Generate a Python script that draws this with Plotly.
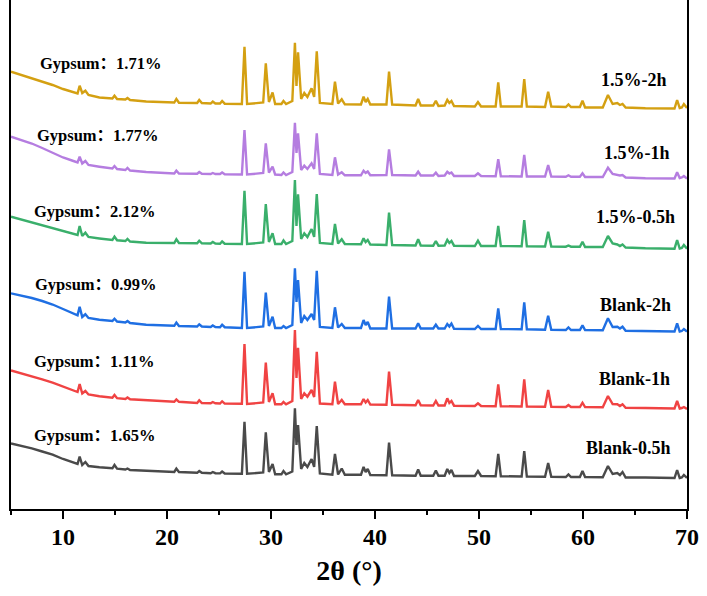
import plotly.graph_objects as go

# 2θ vertices (degrees) shared by all patterns
two_theta = [
    5.0, 6.0, 7.0, 8.0, 9.0, 10.0, 11.0, 11.4,
    11.6, 11.85, 12.15, 12.45, 13.5, 14.75, 14.95, 15.2, 16.0, 16.2, 16.45, 18.0,
    20.7, 20.9, 21.15, 22.9, 23.1, 23.35, 24.2, 24.4, 24.65, 25.1, 25.3, 25.55,
    27.2, 27.45, 27.7, 29.25, 29.5, 29.8, 30.15, 30.4, 31.0, 31.2, 31.45,
    32.05, 32.3, 32.45, 32.6, 32.9, 33.2, 33.5, 33.9, 34.15, 34.4, 34.7,
    35.9, 36.15, 36.45, 36.8, 37.1, 38.65, 38.9, 39.1, 39.3, 39.55,
    41.1, 41.35, 41.65, 43.9, 44.15, 44.4, 45.6, 45.85, 46.1, 46.7, 46.95, 47.15, 47.35, 47.6,
    49.6, 49.9, 50.2, 51.6, 51.85, 52.1, 54.1, 54.35, 54.6, 56.35, 56.65, 56.95,
    58.35, 58.6, 58.85, 59.7, 59.95, 60.2, 61.9, 62.4, 62.85, 63.3, 63.55, 63.8, 64.1,
    66.0, 68.8, 69.05, 69.3, 69.5, 69.7, 70.0,
]

# stacked intensities (a.u.)
int_15_2h = [
    437.3, 434, 430.7, 427.5, 424, 420, 416.3, 415.5,
    423.3, 416, 418.3, 414, 411.5, 410.5, 413.3, 410, 409.5, 411, 409, 407.5,
    406.5, 410, 406.3, 406, 409, 406, 405.5, 407.5, 405.5, 405.5, 408, 405.3,
    405, 462.3, 405, 406.5, 445.7, 407, 416.5, 405, 405, 408, 405,
    408, 466.3, 423, 456.7, 410, 416, 412, 420.7, 412, 457.7, 406,
    405, 427.3, 405.5, 409.7, 404.7, 404.5, 412.3, 407, 410, 404.5,
    404.5, 437.3, 404.5, 403.5, 410, 403.5, 403.5, 408.3, 403, 403.5, 409, 406, 408, 403,
    402.5, 407, 402.5, 402.5, 426.7, 402.5, 402.5, 430, 402.5, 402, 417.3, 402.5,
    402, 404.5, 402, 402, 408.3, 401.5, 401.5, 414, 405, 406, 404, 405, 401.5,
    400.7, 400.5, 409, 401, 401.5, 405, 401,
]
int_15_1h = [
    372.3, 369, 365.5, 361, 356, 351.5, 348, 346.5,
    352.3, 345.5, 348, 344, 342.3, 340.5, 343, 340, 339, 341, 338.5, 337,
    335.5, 338.3, 335.5, 335.3, 337, 335.3, 335, 336, 335, 335, 336.5, 334.8,
    334.5, 379, 334.5, 336, 365.7, 336.5, 342.3, 334.5, 334, 336.5, 334,
    337, 386.3, 356, 375.7, 339, 343.3, 340, 345.7, 340, 375.7, 335,
    334, 351.7, 334.5, 336.7, 333.7, 333.7, 338.3, 336, 337.5, 333.7,
    334, 359.7, 334, 333.5, 337.3, 333.5, 333.5, 336.3, 333, 333.5, 337.3, 335.5, 336.5, 333,
    333, 335.7, 333, 332.8, 349.7, 332.8, 332.5, 354, 332.5, 332.5, 344, 332.5,
    332.3, 333.7, 332.3, 332.3, 335.7, 332, 332, 341.3, 335, 334.5, 333.5, 334, 331.5,
    330.7, 330.5, 336.7, 331, 331.5, 333, 330.3,
]
int_15_05h = [
    292.3, 289.5, 286.7, 283.5, 280.7, 278, 275, 274,
    283, 273, 276.3, 272, 270.5, 269, 272.3, 268.7, 268, 270, 267.5, 266.3,
    266, 269.7, 266, 265.7, 268.3, 265.7, 265.5, 267, 265.5, 265.3, 267.5, 265.3,
    265, 318.3, 265, 266.5, 305, 267, 275.7, 265, 265, 268.5, 265,
    268, 329, 283, 314.7, 270, 275.7, 272, 280, 272, 315, 266,
    265, 285, 265.5, 269.7, 265, 264.7, 270.7, 267, 269, 264.5,
    264, 296.3, 264, 263.5, 269.7, 263.5, 263.3, 268, 263.3, 263.5, 269, 266, 268, 263.3,
    263, 268.3, 263, 263, 283, 263, 262.7, 289, 262.7, 262.5, 277.3, 262.5,
    262.3, 263.5, 262.3, 262.3, 267.3, 262, 262, 273, 265.5, 264.5, 263, 264.5, 261.5,
    260.7, 260.3, 269, 260.5, 261, 264, 260.3,
]
int_blank_2h = [
    215.7, 213.5, 211, 208, 204.5, 200, 195.5, 193.7,
    202.3, 192, 194.7, 191, 189.3, 188, 190.3, 187.5, 186.5, 188, 186, 184.3,
    183.2, 186.5, 183, 182.5, 184.7, 182.5, 182, 183.5, 182, 181.8, 184.3, 181.8,
    181, 237.3, 181, 182.5, 216.3, 183, 192.3, 181, 181, 183, 181,
    184, 240.7, 207, 229, 186, 193, 189, 195, 189, 238.3, 182,
    181, 201.7, 181.5, 185, 181, 181, 189, 184, 187, 180.5,
    180.5, 212.3, 180.5, 180.5, 185.7, 180.5, 180.5, 184.3, 180.5, 180.5, 185, 182.5, 185.5, 180.3,
    180, 183, 180, 180, 200.7, 180, 179.7, 206.7, 179.7, 179.3, 193.3, 179.3,
    179, 181.5, 179, 179, 183.7, 179, 178.7, 190.7, 182, 182.3, 180.5, 182.3, 178.3,
    178, 177.5, 185.7, 177.5, 178, 180, 177.3,
]
int_blank_1h = [
    138.5, 135.7, 132.7, 129.7, 126.3, 122.5, 118.5, 117,
    125, 115.5, 118, 114.5, 112.7, 111.3, 114, 110.8, 110, 111.5, 109.7, 109,
    107.3, 109.5, 107.2, 106, 108.7, 106, 105.7, 107, 105.7, 105.5, 107.7, 105.4,
    105.2, 165, 105, 106.5, 146.3, 107, 115.7, 104.7, 104.7, 107, 104.7,
    108, 179, 131, 161.3, 110, 115.7, 112.3, 119, 112, 157.3, 105.5,
    104.7, 127.3, 105, 109, 104.7, 104.7, 110, 106.5, 109, 104.5,
    104.2, 137.3, 104.2, 103.8, 109, 103.8, 103.5, 108, 103.5, 103.5, 110.7, 106, 108, 103.3,
    103, 105.7, 103, 102.8, 124.7, 102.8, 102.5, 129.7, 102.5, 102.3, 119, 102.3,
    102, 104, 102, 102, 106.3, 102, 101.8, 113, 105, 104.7, 103, 104.7, 101.3,
    101, 100.5, 108, 100.5, 101, 102, 100,
]
int_blank_05h = [
    65.5, 63.3, 60.7, 57.5, 54.3, 50, 46.5, 45,
    52.3, 44, 47, 43, 41.7, 40.7, 44, 40.3, 39.5, 40.5, 39, 38,
    37, 40.3, 37, 36.2, 38, 36.2, 35.8, 37, 35.8, 35.6, 37.5, 35.5,
    35.2, 87.3, 35.2, 36.5, 76.7, 37, 45, 34.7, 34.7, 38, 34.7,
    37.5, 100.7, 64, 84, 40, 46, 42, 50, 42, 83, 35.5,
    34.3, 55, 34.5, 40.5, 34.3, 34.2, 42, 37, 40, 34,
    33.7, 66.3, 33.7, 33.3, 39.5, 33.3, 33.2, 38.5, 33.2, 33.2, 40, 36, 39, 33,
    33, 38, 33, 32.8, 55, 32.8, 32.5, 58, 32.5, 32.3, 46, 32.3,
    32, 34.5, 32, 32, 38, 32, 31.8, 43, 35, 36, 34, 37, 31.5,
    31.5, 31, 39, 31, 31.5, 34, 31,
]

sample_names = ["1.5%-2h", "1.5%-1h", "1.5%-0.5h", "Blank-2h", "Blank-1h", "Blank-0.5h"]
gypsum_contents = ["1.71%", "1.77%", "2.12%", "0.99%", "1.11%", "1.65%"]
series = [int_15_2h, int_15_1h, int_15_05h, int_blank_2h, int_blank_1h, int_blank_05h]
x_ticks = [10, 20, 30, 40, 50, 60, 70]

colors = ["#D4A012", "#B57DE0", "#3AAF6B", "#1F6FE3", "#F04343", "#4A4A4A"]

for s in series:
    assert len(s) == len(two_theta), (len(s), len(two_theta))

fig = go.Figure()
for name, s, c in zip(sample_names, series, colors):
    fig.add_trace(go.Scatter(x=two_theta, y=s, mode="lines", name=name,
                             line=dict(color=c, width=2.4), showlegend=False))

FONT = "Liberation Serif, Noto Sans CJK SC, serif"

# label placement (layout only)
gyp_x = [7.57, 7.28, 6.99, 7.09, 6.99, 6.99]
gyp_y = [445.7, 374, 297.3, 224.7, 147.3, 74]
name_x = [68.25, 68.54, 69.02, 68.64, 68.54, 68.64]
name_y = [429, 355.7, 292.3, 204, 130, 60.7]

for i in range(6):
    fig.add_annotation(x=gyp_x[i], y=gyp_y[i], xref="x", yref="y",
                       text="Gypsum：" + gypsum_contents[i], showarrow=False,
                       xanchor="left", yanchor="middle",
                       font=dict(family=FONT, size=16.5, color="black", weight="bold"))
    fig.add_annotation(x=name_x[i], y=name_y[i], xref="x", yref="y",
                       text=sample_names[i], showarrow=False,
                       xanchor="right", yanchor="middle",
                       font=dict(family=FONT, size=18, color="black", weight="bold"))

fig.update_layout(
    width=707, height=596,
    margin=dict(l=11, r=20, t=0, b=87),
    paper_bgcolor="white", plot_bgcolor="white",
    xaxis=dict(
        range=[5, 70], tickmode="array", tickvals=x_ticks,
        ticks="outside", ticklen=8, tickwidth=2, tickcolor="black",
        showline=True, linewidth=2, linecolor="black", mirror=False,
        showgrid=False, zeroline=False,
        minor=dict(ticks="outside", dtick=5, tick0=5, ticklen=4, tickwidth=2, tickcolor="black"),
        tickfont=dict(family=FONT, size=24, color="black", weight="bold"),
        ticklabelstandoff=-3,
        title=dict(text="2θ (°)", standoff=12,
                   font=dict(family=FONT, size=28, color="black", weight="bold")),
    ),
    yaxis=dict(
        range=[0, 509], showline=True, linewidth=2, linecolor="black", mirror=True,
        ticks="", showticklabels=False, showgrid=False, zeroline=False,
    ),
)

fig.write_html("out.html")
